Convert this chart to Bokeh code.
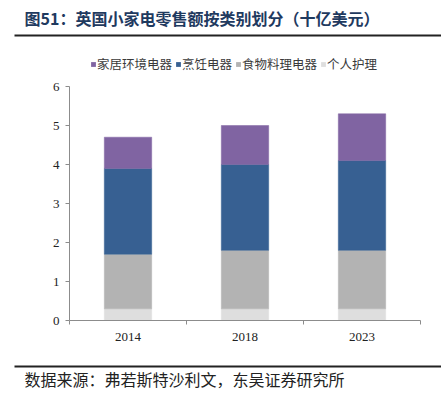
from bokeh.plotting import figure
from bokeh.layouts import column
from bokeh.models import Legend, LegendItem, FixedTicker, Range1d, ColumnDataSource
from bokeh.core.properties import value
from bokeh.embed import file_html
from bokeh.resources import INLINE

years = ["2014", "2018", "2023"]
series = ["个人护理", "食物料理电器", "烹饪电器", "家居环境电器"]
personal_care = [0.3, 0.3, 0.3]
food_processing = [1.4, 1.5, 1.5]
cooking = [2.2, 2.2, 2.3]
home_env = [0.8, 1.0, 1.2]
colors = ["#DEDEDE", "#B3B3B3", "#376092", "#8064A2"]
y_ticks = [0, 1, 2, 3, 4, 5, 6]
title_text = "图51：英国小家电零售额按类别划分（十亿美元）"
source_text = "数据来源：弗若斯特沙利文，东吴证券研究所"

W = 441
HH = 78          # header height (title + legend)
MH = 272         # main chart height
FH = 396 - HH - MH  # footer height


def blank(h):
    f = figure(width=W, height=h, output_backend="svg", toolbar_location=None,
               x_range=Range1d(0, W), y_range=Range1d(h, 0),
               min_border=0, min_border_left=0, min_border_right=0,
               min_border_top=0, min_border_bottom=0, frame_align=False)
    f.axis.visible = False
    f.grid.visible = False
    f.outline_line_color = None
    f.background_fill_color = "white"
    f.border_fill_color = "white"
    return f


# ---------- header ----------
header = blank(HH)
header.text(x=[24], y=[17], text=[title_text], text_font=value("Noto Sans CJK SC"),
            text_font_size="16px", text_font_style="bold", text_color="#1F3A5F",
            text_baseline="middle")
header.quad(left=[14], right=[W], top=[34], bottom=[36], fill_color="#222222",
            line_color=None)
# legend swatches (drawn off-frame, only used by the legend)
dummies = {}
for s, c in zip(series, colors):
    dummies[s] = header.quad(left=[-60], right=[-50], top=[-60], bottom=[-50],
                             fill_color=c, line_color=None)
legend = Legend(items=[LegendItem(label=s, renderers=[dummies[s]]) for s in reversed(series)],
                orientation="horizontal", location=(90, 5),
                glyph_width=6, glyph_height=6, label_standoff=1, spacing=3,
                padding=0, margin=0, border_line_color=None,
                background_fill_alpha=0, label_text_font="Noto Sans CJK SC",
                label_text_font_size="12.5px", label_text_color="#3A3A3A",
                label_height=16)
header.add_layout(legend, "center")

# ---------- main chart ----------
FL, FR, FT, FB = 69, 420, 86 - HH, 320 - HH
p = figure(width=W, height=MH, output_backend="svg", toolbar_location=None,
           x_range=Range1d(0, len(years)), y_range=Range1d(0, 6),
           min_border_left=FL, min_border_right=W - FR,
           min_border_top=FT, min_border_bottom=MH - FB, frame_align=False)
p.outline_line_color = None
p.xgrid.visible = False
p.ygrid.visible = False
p.background_fill_color = "white"
p.border_fill_color = "white"

xs = [i + 0.5 for i in range(len(years))]
src = ColumnDataSource(dict(x=xs, pc=personal_care, fp=food_processing,
                            ck=cooking, he=home_env))
p.vbar_stack(["pc", "fp", "ck", "he"], x="x", width=0.405, source=src,
             color=colors, line_color=colors, line_width=0.5)

p.yaxis.ticker = FixedTicker(ticks=y_ticks)
p.yaxis.axis_line_color = "#8C8C8C"
p.yaxis.major_tick_line_color = "#8C8C8C"
p.yaxis.major_tick_out = 4
p.yaxis.major_tick_in = 0
p.yaxis.minor_tick_line_color = None
p.yaxis.major_label_text_font = "Liberation Serif"
p.yaxis.major_label_text_font_size = "13px"
p.yaxis.major_label_text_color = "#222222"
p.yaxis.major_label_standoff = 6

p.xaxis.ticker = FixedTicker(ticks=xs, minor_ticks=list(range(len(years) + 1)))
p.xaxis.major_label_overrides = {x: y for x, y in zip(xs, years)}
p.xaxis.axis_line_color = "#8C8C8C"
p.xaxis.major_tick_line_color = None
p.xaxis.minor_tick_line_color = "#8C8C8C"
p.xaxis.minor_tick_out = 4
p.xaxis.minor_tick_in = 0
p.xaxis.major_label_text_font = "Liberation Serif"
p.xaxis.major_label_text_font_size = "13px"
p.xaxis.major_label_text_color = "#222222"
p.xaxis.major_label_standoff = 6

# ---------- footer ----------
footer = blank(FH)
y0 = HH + MH
footer.quad(left=[14], right=[W], top=[365 - y0], bottom=[367 - y0],
            fill_color="#222222", line_color=None)
footer.text(x=[24], y=[378.5 - y0], text=[source_text], text_font=value("Noto Sans CJK SC"),
            text_font_size="16px", text_color="#222222", text_baseline="middle")

layout = column(header, p, footer, spacing=0)
open("out.html", "w").write(file_html(layout, INLINE))
